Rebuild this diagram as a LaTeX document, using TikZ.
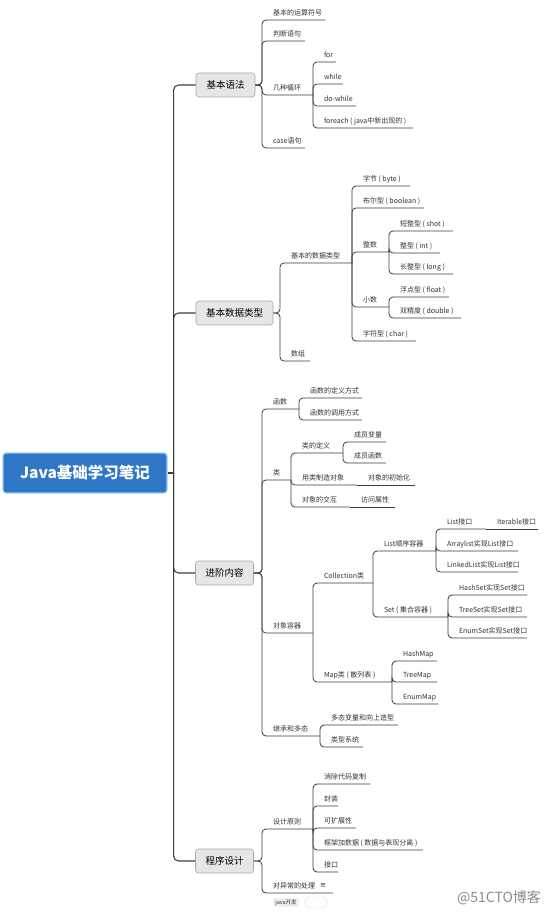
\documentclass[tikz,border=0pt]{standalone}
\usepackage{fontspec}
\setmainfont{Noto Sans CJK SC}
\newfontfamily\symfont{DejaVu Sans}
\usetikzlibrary{calc}
\definecolor{linec}{HTML}{3C3C3C}
\definecolor{textc}{HTML}{333333}
\definecolor{boxfill}{HTML}{E6E6E6}
\definecolor{boxborder}{HTML}{A8A8A8}
\definecolor{rootfill}{HTML}{2F76C6}
\definecolor{rootborder}{HTML}{9CCDF5}
\newcommand\mmtext[2]{\makebox[#1pt][l]{\hspace{11pt}#2}}
\begin{document}
\begin{tikzpicture}[x=1pt,y=-1pt,
  leaf/.style={anchor=south west, inner sep=0pt, outer sep=0pt, text height=6pt, text depth=4.5pt,
    font=\fontsize{7}{8}\selectfont, text=textc},
  lone/.style={draw=boxborder, fill=boxfill, rounded corners=3pt, minimum height=24pt, inner xsep=0pt,
    font=\fontsize{9.5}{11}\selectfont, text=black, line width=0.6pt},
  rootbox/.style={draw=rootborder, fill=rootfill, line width=1.2pt, rounded corners=3pt, text=white,
    font=\fontsize{15.5}{17}\selectfont\bfseries, inner sep=0pt},
  conn/.style={draw=linec, line width=0.8pt, rounded corners=4pt},
  spinec/.style={draw=linec, line width=1.1pt, rounded corners=5pt}]
\fill[white] (0,0) rectangle (558,915);
\useasboundingbox (0,0) rectangle (558,915);

% root and level-1 boxes
\node[rootbox, minimum width=164pt, minimum height=40pt] (root) at (85,473) {Java基础学习笔记};
\coordinate (sp) at ($(root.east)+(6,0)$);
\node[lone, minimum width=59pt] (b1) at (225.5,85) {基本语法};
\node[lone, minimum width=77pt] (b2) at (234.5,313) {基本数据类型};
\node[lone, minimum width=58pt] (b3) at (224.5,573) {进阶内容};
\node[lone, minimum width=58pt] (b4) at (224.5,861) {程序设计};
\draw[spinec] (root.east) -- (sp);
\foreach \b in {b1,b2,b3,b4}{\draw[spinec] (sp) |- (\b.west);}

% ---- 基本语法
\node[leaf] (a1) at (262,20) {\mmtext{63}{基本的运算符号}};
\node[leaf] (a2) at (262,41) {\mmtext{43}{判断语句}};
\node[leaf] (a3) at (262,95) {\mmtext{51}{几种循环}};
\node[leaf] (a4) at (262,148) {\mmtext{43}{case语句}};
\foreach \c in {a1,a2,a3,a4}{\draw[conn] (b1.east) -- (b1.east -| \c.south west) |- (\c.south east);}
\node[leaf] (a31) at (313,62) {\mmtext{23}{for}};
\node[leaf] (a32) at (313,84) {\mmtext{30}{while}};
\node[leaf] (a33) at (313,106) {\mmtext{43}{do-while}};
\node[leaf] (a34) at (313,128) {\mmtext{100}{foreach ( java中新出现的 )}};
\foreach \c in {a31,a32,a33,a34}{\draw[conn] (a3.south east) |- (\c.south east);}

% ---- 基本数据类型
\node[leaf] (c1) at (280,263) {\mmtext{72}{基本的数据类型}};
\node[leaf] (c2) at (280,361) {\mmtext{30}{数组}};
\foreach \c in {c1,c2}{\draw[conn] (b2.east) -- (b2.east -| \c.south west) |- (\c.south east);}
\node[leaf] (c11) at (352,186) {\mmtext{58}{字节 ( byte )}};
\node[leaf] (c12) at (352,208) {\mmtext{72}{布尔型 ( boolean )}};
\node[leaf] (c13) at (352,252) {\mmtext{37}{整数}};
\node[leaf] (c14) at (352,307) {\mmtext{37}{小数}};
\node[leaf] (c15) at (352,341) {\mmtext{64}{字符型 ( char )}};
\foreach \c in {c11,c12,c13,c14,c15}{\draw[conn] (c1.south east) |- (\c.south east);}
\node[leaf] (c131) at (389,231) {\mmtext{64}{短整型 ( shot )}};
\node[leaf] (c132) at (389,253) {\mmtext{51}{整型 ( int )}};
\node[leaf] (c133) at (389,274) {\mmtext{64}{长整型 ( long )}};
\foreach \c in {c131,c132,c133}{\draw[conn] (c13.south east) |- (\c.south east);}
\node[leaf] (c141) at (389,297) {\mmtext{60}{浮点型 ( float )}};
\node[leaf] (c142) at (389,318) {\mmtext{72}{双精度 ( double )}};
\foreach \c in {c141,c142}{\draw[conn] (c14.south east) |- (\c.south east);}

% ---- 进阶内容
\node[leaf] (d1) at (262,409) {\mmtext{37}{函数}};
\node[leaf] (d2) at (262,480) {\mmtext{29}{类}};
\node[leaf] (d3) at (262,633) {\mmtext{51}{对象容器}};
\node[leaf] (d4) at (262,736) {\mmtext{58}{继承和多态}};
\foreach \c in {d1,d2,d3,d4}{\draw[conn] (b3.east) -- (b3.east -| \c.south west) |- (\c.south east);}
\node[leaf] (d11) at (299,398) {\mmtext{63}{函数的定义方式}};
\node[leaf] (d12) at (299,420) {\mmtext{63}{函数的调用方式}};
\foreach \c in {d11,d12}{\draw[conn] (d1.south east) |- (\c.south east);}
\node[leaf] (d21) at (291,453) {\mmtext{52}{类的定义}};
\node[leaf] (d22) at (291,485) {\mmtext{66}{用类制造对象}};
\node[leaf] (d23) at (291,507) {\mmtext{59}{对象的交互}};
\foreach \c in {d21,d22,d23}{\draw[conn] (d2.south east) |- (\c.south east);}
\node[leaf] (d211) at (343,442) {\mmtext{43}{成员变量}};
\node[leaf] (d212) at (343,463) {\mmtext{43}{成员函数}};
\foreach \c in {d211,d212}{\draw[conn] (d21.south east) |- (\c.south east);}
\node[leaf] (d221) at (357,485) {\mmtext{58}{对象的初始化}};
\draw[conn] (d22.south east) -- (d221.south east);
\node[leaf] (d231) at (350,507) {\mmtext{45}{访问属性}};
\draw[conn] (d23.south east) -- (d231.south east);
\node[leaf] (d31) at (313,583) {\mmtext{60}{Collection类}};
\node[leaf] (d32) at (313,682) {\mmtext{79}{Map类 ( 散列表 )}};
\foreach \c in {d31,d32}{\draw[conn] (d3.south east) |- (\c.south east);}
\node[leaf] (d311) at (373,551) {\mmtext{63}{List顺序容器}};
\node[leaf] (d312) at (373,617) {\mmtext{75}{Set ( 集合容器 )}};
\foreach \c in {d311,d312}{\draw[conn] (d31.south east) |- (\c.south east);}
\node[leaf] (d3111) at (436,529) {\mmtext{50}{List接口}};
\node[leaf] (d3112) at (436,551) {\mmtext{82}{Arraylist实现List接口}};
\node[leaf] (d3113) at (436,572) {\mmtext{82}{LinkedList实现List接口}};
\foreach \c in {d3111,d3112,d3113}{\draw[conn] (d311.south east) |- (\c.south east);}
\node[leaf] (d31111) at (486,529) {\mmtext{52}{Iterable接口}};
\draw[conn] (d3111.south east) -- (d31111.south east);
\node[leaf] (d3121) at (448,595) {\mmtext{79}{HashSet实现Set接口}};
\node[leaf] (d3122) at (448,617) {\mmtext{79}{TreeSet实现Set接口}};
\node[leaf] (d3123) at (448,638) {\mmtext{79}{EnumSet实现Set接口}};
\foreach \c in {d3121,d3122,d3123}{\draw[conn] (d312.south east) |- (\c.south east);}
\node[leaf] (d321) at (392,661) {\mmtext{45}{HashMap}};
\node[leaf] (d322) at (392,682) {\mmtext{45}{TreeMap}};
\node[leaf] (d323) at (392,704) {\mmtext{46}{EnumMap}};
\foreach \c in {d321,d322,d323}{\draw[conn] (d32.south east) |- (\c.south east);}
\node[leaf] (d41) at (320,725) {\mmtext{78}{多态变量和向上造型}};
\node[leaf] (d42) at (320,747) {\mmtext{43}{类型系统}};
\foreach \c in {d41,d42}{\draw[conn] (d4.south east) |- (\c.south east);}

% ---- 程序设计
\node[leaf] (e1) at (262,829) {\mmtext{51}{设计原则}};
\node[leaf] (e2) at (262,893) {\mmtext{71}{对异常的处理}};
\foreach \c in {e1,e2}{\draw[conn] (b4.east) -- (b4.east -| \c.south west) |- (\c.south east);}
\node[leaf] (e11) at (313,784) {\mmtext{57}{消除代码复制}};
\node[leaf] (e12) at (313,806) {\mmtext{25}{封装}};
\node[leaf] (e13) at (313,828) {\mmtext{43}{可扩展性}};
\node[leaf] (e14) at (313,850) {\mmtext{110}{框架加数据 ( 数据与表现分离 )}};
\node[leaf] (e15) at (313,872) {\mmtext{25}{接口}};
\foreach \c in {e11,e12,e13,e14,e15}{\draw[conn] (e1.south east) |- (\c.south east);}
\node[inner sep=0pt, font=\symfont\fontsize{7}{8}\selectfont, text=textc] (note) at (323,885.5) {≡};

% tag and watermark
\node[fill=black!6, rounded corners=1.5pt, inner xsep=2pt, inner ysep=1.5pt,
  font=\fontsize{5.5}{6}\selectfont, text=textc] (tag) at (286,902.5) {java开发};
\node[draw=black!12, fill=white, rounded corners=5.5pt, minimum width=22pt, minimum height=11pt, inner sep=0pt]
  (pill) at (316,902.5) {};
\node[font=\fontsize{14}{16}\selectfont, text=black!45] (wm) at (499,898) {@51CTO博客};
\end{tikzpicture}
\end{document}
